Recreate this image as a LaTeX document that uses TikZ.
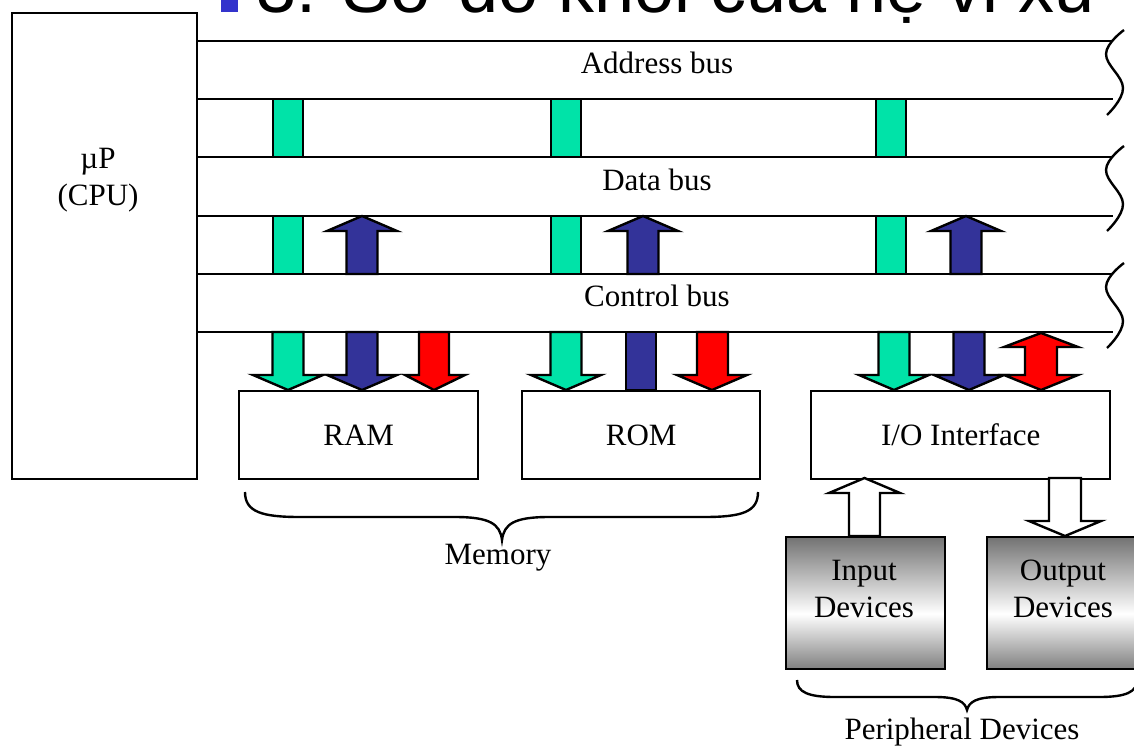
\documentclass[tikz,border=0pt]{standalone}
\usepackage{fontspec}
\setmainfont{Liberation Serif}
\newfontfamily\titlefont{Liberation Sans}
\definecolor{agreen}{RGB}{0,227,168}
\definecolor{ablue}{RGB}{51,51,153}
\definecolor{ared}{RGB}{255,0,0}
\definecolor{bulletblue}{RGB}{51,51,204}
\pgfdeclareverticalshading{devshade}{100bp}{color(0bp)=(gray); color(25bp)=(gray); color(46bp)=(white); color(75bp)=(gray!90!black); color(100bp)=(gray!90!black)}
\tikzset{
  x=1pt, y=-1pt,
  thick line/.style={line width=2.4pt},
  box/.style={draw, line width=2.4pt, fill=white, inner sep=0pt},
  lbl/.style={font=\fontsize{31}{37}\selectfont, inner sep=0pt, align=center},
  devbox/.style={draw, line width=2.4pt, shading=devshade, inner sep=0pt},
  arrowshape/.style={draw, line width=2.4pt, line join=miter},
}
% down block arrow: #1 centre x, #2 top y, #3 tip y, #4 fill
\newcommand{\dnblock}[4]{%
  \path[arrowshape, fill=#4] ({#1-15.5},#2) -- ({#1-15.5},{#3-15}) -- ({#1-35},{#3-15}) -- (#1,#3)
    -- ({#1+35},{#3-15}) -- ({#1+15.5},{#3-15}) -- ({#1+15.5},#2) -- cycle;}
% up block arrow: #1 centre x, #2 bottom y, #3 tip y, #4 fill
\newcommand{\upblock}[4]{%
  \path[arrowshape, fill=#4] ({#1-15.5},#2) -- ({#1-15.5},{#3+15}) -- ({#1-35},{#3+15}) -- (#1,#3)
    -- ({#1+35},{#3+15}) -- ({#1+15.5},{#3+15}) -- ({#1+15.5},#2) -- cycle;}
% bar: #1 centre x, #2 top, #3 bottom, #4 fill
\newcommand{\busbar}[4]{%
  \path[arrowshape, fill=#4] ({#1-15},#2) rectangle ({#1+15},#3);}
% squiggle at right of bus, #1 top line y
\newcommand{\squig}[1]{%
  \draw[thick line] plot[smooth, tension=0.7] coordinates {(1124,{#1-11}) (1106,{#1+13}) (1123,{#1+47}) (1107,{#1+74})};}
\begin{document}
\begin{tikzpicture}
\useasboundingbox (0,0) rectangle (1134,749);
\clip (0,0) rectangle (1134,749);
\fill[white] (0,0) rectangle (1134,749);

% title (cut off at the top)
\fill[bulletblue] (221,-6) rectangle (238,12);
\node[anchor=base west, inner sep=0pt, font=\titlefont\fontsize{72}{80}\selectfont] (title) at (256,13) {3. Sơ đồ khối của hệ vi xử};

% CPU
\node[box, minimum width=185pt, minimum height=466pt, anchor=north west] (cpu) at (11,12) {};
\node[lbl, anchor=center] (cpulbl) at (98,180) {µP\\(CPU)};

% buses
\foreach \yy in {41,99,157,216,274,332} {
  \draw[thick line] (cpu.east |- 0,\yy) -- (1113,\yy);
}
\squig{41}
\squig{157}
\squig{274}
\node[lbl] (abus) at (657,63) {Address bus};
\node[lbl] (dbus) at (657,180) {Data bus};
\node[lbl] (cbus) at (657,296) {Control bus};

% green bars
\foreach \cx in {288,566,891} {
  \busbar{\cx}{99}{157}{agreen}
  \busbar{\cx}{216}{274}{agreen}
}
% blue up arrows in data-control gap
\upblock{362}{274}{216}{ablue}
\upblock{643}{274}{216}{ablue}
\upblock{966}{274}{216}{ablue}

% boxes
\node[box, minimum width=239pt, minimum height=88pt, anchor=north west] (ram) at (238,390) {};
\node[lbl] (ramlbl) at (ram.center) {RAM};
\node[box, minimum width=238pt, minimum height=88pt, anchor=north west] (rom) at (521,390) {};
\node[lbl] (romlbl) at (rom.center) {ROM};
\node[box, minimum width=299pt, minimum height=88pt, anchor=north west] (io) at (810,390) {};
\node[lbl] (iolbl) at (io.center) {I/O Interface};

% down arrows to RAM
\dnblock{288}{332}{390}{agreen}
\dnblock{362}{332}{390}{ablue}
\path[arrowshape, fill=ared] (419,332) -- (419,375) -- (405,375) -- (434,390) -- (465,375) -- (449,375) -- (449,332) -- cycle;
% ROM
\dnblock{566}{332}{390}{agreen}
\busbar{641}{332}{390}{ablue}
\path[arrowshape, fill=ared] (697,332) -- (697,375) -- (677,375) -- (712,390) -- (747,375) -- (728,375) -- (728,332) -- cycle;
% I/O
\dnblock{894}{332}{390}{agreen}
\dnblock{969}{332}{390}{ablue}
\path[arrowshape, fill=ared] (1041,333) -- (1078,347) -- (1057,347) -- (1057,375) -- (1078,375) -- (1041,390)
  -- (1004,375) -- (1025,375) -- (1025,347) -- (1004,347) -- cycle;

% devices
\node[devbox, minimum width=159pt, minimum height=132pt, anchor=north west] (indev) at (785,536) {};
\node[lbl] (inlbl) at (864,589) {Input\\Devices};
\node[devbox, minimum width=150pt, minimum height=132pt, anchor=north west] (outdev) at (986,536) {};
\node[lbl] (outlbl) at (1063,589) {Output\\Devices};

% hollow arrows
\path[arrowshape, fill=white] (849,536) -- (849,493) -- (829,493) -- (864.5,478) -- (900,493) -- (880,493) -- (880,536) -- cycle;
\path[arrowshape, fill=white] (1049,478) -- (1049,521) -- (1029,521) -- (1065,536) -- (1101,521) -- (1081,521) -- (1081,478) -- cycle;

% memory brace
\draw[thick line] (245,492) .. controls (245,512) and (262,517) .. (300,517) -- (455,517)
  .. controls (490,517) and (500,524) .. (502,540)
  .. controls (504,524) and (514,517) .. (549,517) -- (704,517)
  .. controls (742,517) and (758,512) .. (758,492);
\node[lbl] (mem) at (498,558) {Memory};

% peripheral brace
\draw[thick line] (797,680) .. controls (797,692) and (808,697) .. (835,697) -- (935,697)
  .. controls (958,697) and (965,702) .. (967,710)
  .. controls (969,702) and (976,697) .. (999,697) -- (1099,697)
  .. controls (1126,697) and (1137,692) .. (1137,680);
\node[lbl] (per) at (962,732) {Peripheral Devices};
\end{tikzpicture}
\end{document}
